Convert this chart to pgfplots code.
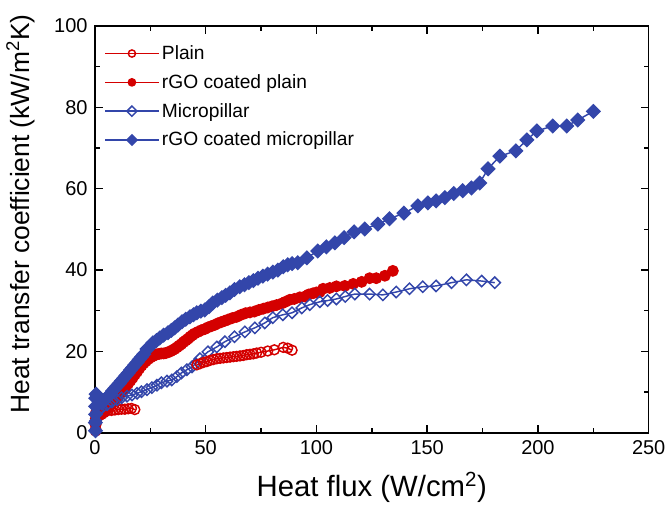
\documentclass[border=0pt]{standalone}
\usepackage{fontspec}
\setmainfont{Liberation Sans}
\usepackage{pgfplots}
\pgfplotsset{compat=1.18}
\definecolor{cred}{HTML}{D40000}
\definecolor{cblue}{HTML}{3346AA}

\begin{document}
\begin{tikzpicture}
\begin{axis}[
  scale only axis,
  width=415.5pt, height=305.25pt,
  xmin=0, xmax=250, ymin=0, ymax=100,
  xtick={0,50,...,250}, ytick={0,20,...,100},
  minor tick num=1,
  tick align=inside,
  major tick length=6pt, minor tick length=3.5pt,
  tick style={line width=1.1pt, black},
  axis line style={line width=1.2pt},
  /pgf/number format/assume math mode=true,
  ticklabel style={font=\fontsize{15}{18}\selectfont},
  xticklabel style={yshift=-2.5pt},
  yticklabel style={xshift=-2pt},
  xlabel={Heat flux (W/cm\textsuperscript{2})},
  ylabel={Heat transfer coefficient (kW/m\textsuperscript{2}K)},
  xlabel style={font=\fontsize{22}{26}\selectfont, at={(rel axis cs:0.5,0)}, anchor=base, yshift=-47.5pt},
  % label is turned by 90 degrees: xshift moves it up, yshift moves it left
  ylabel style={font=\fontsize{19.8}{23}\selectfont, at={(rel axis cs:0,0.5)}, anchor=center, xshift=11.5pt, yshift=56pt},
  legend style={at={(0,1)}, anchor=north west, xshift=4pt, yshift=-10.5pt,
    draw=none, fill=none, row sep=5.7pt,
    font=\fontsize{14.4}{17}\selectfont},
  legend cell align=left,
  legend image code/.code={\draw[mark repeat=2, mark phase=2, #1, mark size=2.7pt] plot coordinates {(0pt,0pt) (20pt,0pt) (40pt,0pt)};},
]
\addplot[cred, line width=1.1pt, mark=o, mark size=3.7pt, mark options={line width=1.1pt, fill=white}] coordinates {
(0.3,1.0)(0.6,2.5)(1.0,3.6)(2.0,4.5)(3.0,5.0)(4.5,5.3)(6,5.5)(7.5,5.5)(9,5.6)(10.5,5.7)(12,5.8)(13.5,5.8)(15,5.9)(16.5,6.0)(18,5.7)
};
\addlegendentry{Plain}
\addplot[cred, line width=1.1pt, mark=*, mark size=3.9pt] coordinates {
(0.3,0.5)(0.3,2)(0.4,3.5)(0.5,5)(1,4.2)(2,4.3)(3,4.6)(4,5.0)(5,5.6)(6,6.2)(7,6.9)(8,7.5)(9,8.1)(10,8.8)(11,9.4)(12,10.0)(13,10.7)(14,11.4)(15,12.1)(16,12.8)(17,13.5)(18,14.3)(19,15.0)(20,15.8)(21,16.5)(22,17.1)(23,17.6)(24,18.1)(25,18.5)(26,18.8)(27,19.1)(28,19.3)(29,19.4)(30,19.5)(31,19.5)(32,19.6)(33,19.8)(34,20.0)(35,20.3)(36,20.6)(37,21.0)(38,21.4)(39,21.8)(40,22.3)(41,22.7)(42,23.1)(43,23.6)(44,24.0)(45,24.4)(46.5,24.8)(48,25.2)(49.6,25.5)(51,25.9)(52.5,26.2)(54,26.5)(55.5,26.9)(57,27.2)(58.5,27.5)(60,27.8)(62,28.2)(64,28.5)(66,29.0)(68,29.4)(70,29.6)(72,29.8)(74,30.2)(76,30.5)(78,30.8)(80,31.1)(82,31.4)(84.4,31.8)(86,32.2)(88,32.7)(90,32.9)(92.5,33.3)(94.8,33.5)(96.5,34.0)(98.5,34.3)(100,34.5)(101.5,34.6)(103,35.4)(106,35.6)(109,36.0)(112.8,36.1)(116.6,36.6)(120.4,37.1)(124,38.0)(127,38.0)(130.9,38.6)(134.5,39.8)
};
\addlegendentry{rGO coated plain}
\addplot[cblue, line width=1.1pt, mark=square, mark size=3.0pt, mark options={rotate=45, line width=1.1pt, fill=white}] coordinates {
(0.3,3)(0.5,4.5)(1.5,5.5)(3,6.1)(5.5,6.9)(7.7,7.6)(10,8.1)(12,8.6)(14.5,9.0)(16.7,9.3)(19,9.7)(21,10.1)(23.5,10.6)(25.7,11.1)(28,11.7)(30,12.3)(32.5,12.7)(34.7,13.0)(37,13.8)(39,14.7)(41.5,15.5)(43.8,16.2)(45.5,17.0)(47.4,18.2)(51,19.9)(55,21.1)(58.7,22.4)(63,23.6)(67.7,24.8)(72.2,25.8)(76.7,27.0)(80.3,28.3)(84.8,29.0)(89,29.5)(93.4,30.7)(97,31.5)(101.5,32.2)(105,32.5)(109,32.9)(113,33.5)(117.3,34.1)(124,34.1)(130,33.9)(136,34.6)(142,35.4)(148,35.9)(154,36.1)(161,36.9)(167.7,37.6)(174.6,37.3)(180.5,36.9)
};
\addlegendentry{Micropillar}
\addplot[cblue, line width=1.1pt, mark=square*, mark size=3.5pt, mark options={rotate=45}] coordinates {
(0.2,0.5)(0.2,2.5)(0.3,4.5)(0.3,6.5)(0.4,8.5)(0.5,9.5)(1,8.5)(2,7.5)(3,7.3)(4,7.8)(5,8.4)(6,9.0)(7,9.6)(8,10.3)(9,10.9)(10,11.5)(11,12.1)(12,12.8)(13,13.4)(14,14.1)(15,14.7)(16,15.4)(17,16.0)(18,16.7)(19,17.3)(20,18.0)(21,18.6)(22,19.3)(23.5,20.6)(25,21.3)(26.2,22.1)(27.8,22.7)(29.3,23.3)(31,24.0)(33,24.6)(34.5,25.2)(36,25.8)(37.5,26.5)(39.3,27.3)(41,27.9)(42.9,28.5)(44.5,29.0)(46,29.5)(47.8,29.9)(49.6,30.2)(51.5,31.0)(53.2,31.9)(55.3,32.6)(57.3,33.2)(59,33.8)(60.9,34.4)(63,35.2)(65.4,35.9)(67.5,36.4)(69.5,36.9)(71.5,37.4)(73.6,38.0)(75.8,38.5)(78,39.0)(80.3,39.5)(82.6,40.0)(85,40.8)(87,41.3)(89,41.6)(91.6,41.8)(95.7,43.0)(100.6,44.7)(104.5,45.7)(108.3,46.7)(112.5,48.0)(117,49.4)(121.8,50.1)(127.7,51.3)(133,52.6)(139.5,54.0)(145.8,55.8)(150.3,56.5)(154,57.0)(158,57.8)(162,58.8)(166,59.5)(170,60.2)(173.7,61.4)(177.5,64.9)(182.8,68.0)(190,69.3)(195,72.0)(199.5,74.2)(206.7,75.4)(213,75.4)(218,76.9)(225,79.0)
};
\addlegendentry{rGO coated micropillar}
% second run of the plain surface, drawn apart as in the source
\addplot[cred, line width=1.1pt, mark=o, mark size=3.7pt, mark options={line width=1.1pt, fill=white}, forget plot] coordinates {
(46,16.7)(47.5,17.0)(49,17.3)(50.5,17.5)(52,17.8)(53.5,18.0)(55,18.2)(56.5,18.3)(58,18.4)(59.5,18.5)(61,18.6)(62.5,18.7)(64,18.8)(65.5,18.9)(67,19.0)(68.5,19.2)(70,19.3)(71.5,19.4)(73,19.6)(75,19.8)(78,20.1)(81,20.4)(85,21.0)(87,20.8)(89,20.3)
};
\end{axis}
\pgfresetboundingbox
\path[use as bounding box] ([xshift=-71.25pt, yshift=-54.75pt]current axis.south west) rectangle ([xshift=15.25pt, yshift=19.5pt]current axis.north east);
\end{tikzpicture}
\end{document}
